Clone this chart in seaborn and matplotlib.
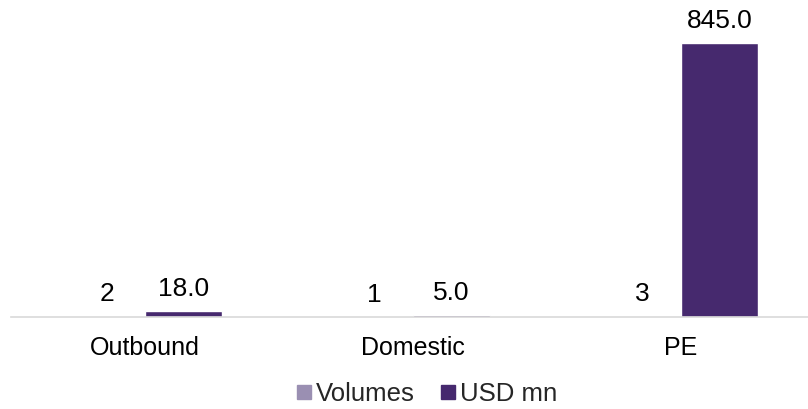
import matplotlib
matplotlib.use("Agg")
import matplotlib.pyplot as plt
import seaborn as sns
import pandas as pd
from matplotlib.lines import Line2D

categories = ["Outbound", "Domestic", "PE"]
volumes = [2, 1, 3]
usd_mn = [18.0, 5.0, 845.0]
series_names = ["Volumes", "USD mn"]
colors = ["#9A8FB2", "#46296E"]

df = pd.DataFrame({
    "cat": categories * 2,
    "val": volumes + usd_mn,
    "series": [series_names[0]] * 3 + [series_names[1]] * 3,
})

sns.set_theme(style="white")
plt.rcParams["font.family"] = ["Liberation Sans", "DejaVu Sans"]

fig = plt.figure(figsize=(8.08, 4.10), dpi=100)
ax = fig.add_axes([11 / 808, 1 - 318 / 410, 804 / 808, 308 / 410])
sns.barplot(data=df, x="cat", y="val", hue="series", palette=colors,
            width=0.572, ax=ax, legend=False, saturation=1)

ax.set_ylim(0, 845 * 308 / 274)
ax.set_xlim(-0.5, 2.5)
fmts = ["%d", "%.1f"]
for cont, fmt in zip(ax.containers, fmts):
    ax.bar_label(cont, fmt=fmt, padding=8, fontsize=19, color="#000000")

for s in ["top", "right", "left"]:
    ax.spines[s].set_visible(False)
ax.spines["bottom"].set_color("#D9D9D9")
ax.spines["bottom"].set_linewidth(1.2)
ax.spines["bottom"].set_clip_on(False)
ax.set_yticks([])
ax.set_xlabel("")
ax.set_ylabel("")
ax.tick_params(axis="x", length=0, labelsize=18, colors="#000000", pad=13)

handles = [Line2D([0], [0], marker="s", linestyle="", markersize=10,
                  markerfacecolor=c, markeredgecolor=c) for c in colors]
fig.legend(handles, series_names, loc="center", bbox_to_anchor=(427 / 808, 1 - 394.5 / 410),
           ncol=2, frameon=False, fontsize=18.5, handletextpad=0.2, columnspacing=1.0,
           handlelength=0.55, borderpad=0, borderaxespad=0)

fig.savefig("out.png", dpi=100)
